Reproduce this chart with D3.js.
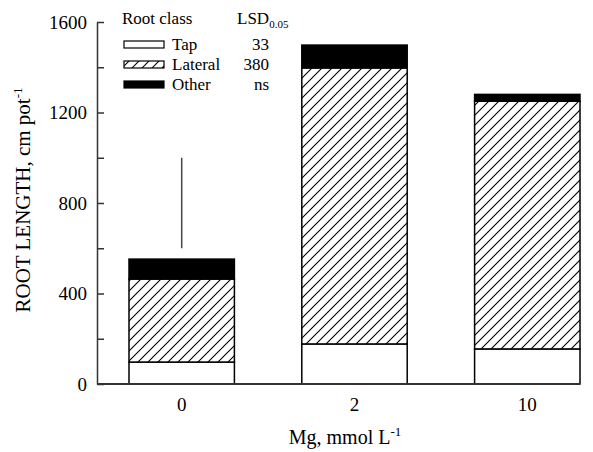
<!DOCTYPE html>
<html><head><meta charset="utf-8">
<script src="https://cdn.jsdelivr.net/npm/d3@7"></script>
<style>
body{margin:0;background:#fff;}
svg text{font-family:'Liberation Serif','Times New Roman',Times,Tinos,'DejaVu Serif',serif !important;fill:#000;}
</style></head>
<body><svg id="c" width="593" height="452"></svg>
<script>
const categories = ["0", "2", "10"];
const tapValues = [97, 177, 155];
const lateralValues = [367, 1220, 1095];
const otherValues = [88, 101, 30];
const seriesNames = ["Tap", "Lateral", "Other"];
const lsdLabels = ["33", "380", "ns"];
const yTicks = [0, 400, 800, 1200, 1600];
const yMinorTicks = [200, 600, 1000, 1400];
const lsdBar = [600, 1000];

const svg = d3.select("#c");
const defs = svg.append("defs");
const pat = defs.append("pattern").attr("id","hatch").attr("patternUnits","userSpaceOnUse")
  .attr("width",10).attr("height",10);
pat.append("rect").attr("width",10).attr("height",10).attr("fill","#fff");
pat.append("path").attr("d","M0,10 L10,0 M-2,2 L2,-2 M8,12 L12,8")
  .attr("stroke","#000").attr("stroke-width",1.1);

const fills = ["#fff","url(#hatch)","#000"];

const y = d3.scaleLinear().domain([0,1600]).range([384,22]);
const x = d3.scaleBand().domain(categories).range([129,580]).paddingInner(0.39).paddingOuter(0);
const axisLeftX = 97;

const data = categories.map((c,i)=>({cat:c, Tap:tapValues[i], Lateral:lateralValues[i], Other:otherValues[i]}));
const stack = d3.stack().keys(seriesNames)(data);

const g = svg.append("g");
stack.forEach((s,si)=>{
  g.selectAll(null).data(s).enter().append("rect")
    .attr("x",d=>x(d.data.cat))
    .attr("width",x.bandwidth())
    .attr("y",d=>y(d[1]))
    .attr("height",d=>y(d[0])-y(d[1]))
    .attr("fill",fills[si])
    .attr("stroke","#000").attr("stroke-width",1.5);
});

// LSD bar
svg.append("line").attr("x1",x("0")+x.bandwidth()/2).attr("x2",x("0")+x.bandwidth()/2)
  .attr("y1",y(lsdBar[0])).attr("y2",y(lsdBar[1])).attr("stroke","#444").attr("stroke-width",1.5);

// Y axis
const ya = svg.append("g").attr("transform",`translate(${axisLeftX},0)`)
  .call(d3.axisLeft(y).tickValues(yTicks).tickSizeInner(-7).tickSizeOuter(0).tickPadding(10).tickFormat(d3.format("d")));
ya.attr("font-family",null);
ya.select(".domain").attr("stroke","#333").attr("stroke-width",1.5);
ya.selectAll(".tick line").attr("stroke","#333").attr("stroke-width",1.5);
ya.selectAll(".tick text").style("font-size","19px");
const ym = svg.append("g").attr("transform",`translate(${axisLeftX},0)`)
  .call(d3.axisLeft(y).tickValues(yMinorTicks).tickSizeInner(-7).tickSizeOuter(0).tickFormat(""));
ym.select(".domain").remove();
ym.selectAll(".tick line").attr("stroke","#333").attr("stroke-width",1.5);

// X axis
const xa = svg.append("g").attr("transform","translate(0,384)")
  .call(d3.axisBottom(x).tickSize(0).tickPadding(14));
xa.attr("font-family",null);
xa.select(".domain").remove();
xa.selectAll(".tick text").style("font-size","19px");
svg.append("line").attr("x1",axisLeftX).attr("x2",x.range()[1]).attr("y1",384).attr("y2",384)
  .attr("stroke","#333").attr("stroke-width",2);

// axis titles
const yt = svg.append("text").attr("transform","translate(30,200) rotate(-90)")
  .attr("text-anchor","middle").style("font-size","21px");
yt.append("tspan").text("ROOT LENGTH, cm pot");
yt.append("tspan").attr("dy",-8).style("font-size","13px").text("-1");

const xt = svg.append("text").attr("x",345).attr("y",444).attr("text-anchor","middle").style("font-size","20px");
xt.append("tspan").text("Mg, mmol L");
xt.append("tspan").attr("dy",-8).style("font-size","13px").text("-1");

// Legend
const leg = svg.append("g");
leg.append("text").attr("x",122).attr("y",24).style("font-size","17px").text("Root class");
const lsdT = leg.append("text").attr("x",237).attr("y",24).style("font-size","17px");
lsdT.append("tspan").text("LSD");
lsdT.append("tspan").attr("dy",4).style("font-size","11px").text("0.05");
const rowY = [41, 61, 81];
seriesNames.forEach((n,i)=>{
  leg.append("rect").attr("x",124).attr("y",rowY[i]).attr("width",40).attr("height",7)
    .attr("fill",fills[i]).attr("stroke","#000").attr("stroke-width",1.2);
  leg.append("text").attr("x",172).attr("y",rowY[i]+9).style("font-size","17px").text(n);
  leg.append("text").attr("x",269).attr("y",rowY[i]+9).attr("text-anchor","end").style("font-size","17px").text(lsdLabels[i]);
});
</script></body></html>
